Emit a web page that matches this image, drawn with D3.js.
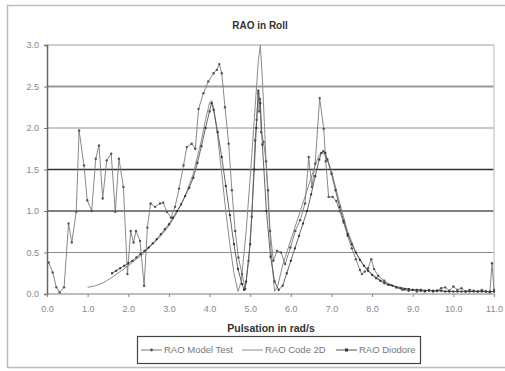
<!DOCTYPE html>
<html><head><meta charset="utf-8">
<script src="https://cdn.jsdelivr.net/npm/d3@7"></script>
<style>body{margin:0;background:#fff}svg{display:block}text{font-family:"Liberation Sans",Arial,sans-serif}</style>
</head><body><svg id="c" width="505" height="371"></svg>
<script>
const title = "RAO in Roll";
const xTitle = "Pulsation in rad/s";
const seriesNames = ["RAO Model Test", "RAO Code 2D", "RAO Diodore"];
const xTicks = [0,1,2,3,4,5,6,7,8,9,10,11];
const yTicks = [0,0.5,1,1.5,2,2.5,3];

const modelX = [0.04,0.14,0.23,0.31,0.42,0.53,0.61,0.72,0.79,0.91,0.99,1.1,1.2,1.28,1.37,1.47,1.58,1.68,1.77,1.88,1.98,2.06,2.13,2.19,2.29,2.39,2.47,2.55,2.66,2.78,2.86,2.95,3.05,3.15,3.25,3.36,3.44,3.56,3.65,3.73,3.85,3.97,4.1,4.18,4.24,4.3,4.38,4.47,4.55,4.63,4.71,4.8,4.88,4.96,5.04,5.12,5.16,5.2,5.22,5.24,5.27,5.33,5.39,5.44,5.49,5.57,5.66,5.76,5.86,5.99,6.11,6.23,6.35,6.44,6.52,6.6,6.71,6.81,6.86,6.93,7.03,7.12,7.2,7.3,7.4,7.5,7.6,7.7,7.75,7.82,7.9,7.98,8.05,8.15,8.3,8.45,8.6,8.75,8.9,9.0,9.1,9.2,9.3,9.4,9.5,9.6,9.7,9.8,9.9,10.0,10.1,10.2,10.3,10.4,10.5,10.6,10.7,10.8,10.9,10.95,11.0];
const modelY = [0.38,0.26,0.08,0.02,0.08,0.85,0.62,0.99,1.97,1.55,1.13,1.0,1.63,1.79,1.15,1.61,1.69,0.99,1.63,1.29,0.24,0.76,0.62,0.76,0.64,0.10,0.80,1.09,1.05,1.09,1.10,0.99,0.92,1.05,1.27,1.55,1.77,1.81,1.75,2.23,2.42,2.56,2.66,2.70,2.77,2.66,2.25,1.81,1.25,0.76,0.44,0.24,0.06,0.40,0.93,1.85,2.10,2.42,2.20,2.35,1.95,1.83,1.60,1.25,0.76,0.40,0.52,0.50,0.36,0.56,0.76,0.89,1.09,1.65,1.29,1.57,2.36,1.99,1.60,1.17,1.17,1.12,1.00,0.86,0.70,0.55,0.42,0.29,0.24,0.27,0.31,0.42,0.30,0.22,0.16,0.11,0.08,0.05,0.04,0.05,0.03,0.04,0.03,0.05,0.03,0.04,0.07,0.08,0.04,0.09,0.05,0.07,0.03,0.05,0.04,0.03,0.05,0.03,0.02,0.37,0.05];

const code2dX = [1.0,1.2,1.4,1.6,1.8,2.0,2.2,2.4,2.6,2.8,3.0,3.2,3.4,3.6,3.8,3.9,4.0,4.05,4.1,4.2,4.3,4.4,4.5,4.6,4.7,4.78,4.9,5.0,5.1,5.2,5.25,5.3,5.4,5.5,5.6,5.68,5.8,6.0,6.2,6.4,6.6,6.7,6.8,6.9,7.0,7.2,7.4,7.6,7.8,8.0,8.2,8.4,8.6,8.8,9.0,9.5,10.0,10.5,11.0];
const code2dY = [0.08,0.10,0.14,0.20,0.27,0.34,0.42,0.50,0.60,0.70,0.82,0.98,1.18,1.45,1.85,2.10,2.30,2.33,2.25,1.90,1.45,1.00,0.60,0.25,0.03,0.15,0.75,1.40,2.10,2.80,3.00,2.60,1.50,0.60,0.03,0.10,0.35,0.65,0.95,1.25,1.55,1.68,1.70,1.62,1.48,1.10,0.75,0.50,0.34,0.24,0.17,0.12,0.09,0.07,0.05,0.04,0.03,0.03,0.03];

const diodoreX = [1.6,1.7,1.8,1.9,2.0,2.1,2.2,2.3,2.4,2.5,2.6,2.7,2.8,2.9,3.0,3.1,3.2,3.3,3.4,3.5,3.6,3.7,3.8,3.9,4.0,4.05,4.1,4.2,4.3,4.4,4.5,4.6,4.7,4.8,4.85,4.9,5.0,5.1,5.15,5.2,5.25,5.3,5.4,5.5,5.6,5.7,5.8,5.9,6.0,6.1,6.2,6.3,6.4,6.5,6.6,6.7,6.75,6.8,6.85,6.9,7.0,7.1,7.2,7.3,7.4,7.5,7.6,7.7,7.8,7.9,8.0,8.1,8.2,8.3,8.4,8.5,8.6,8.7,8.8,8.9,9.0,9.1,9.2,9.3,9.4,9.5,9.6,9.7,9.8,9.9,10.0,10.1,10.2,10.3,10.4,10.5,10.6,10.7,10.8,10.9,11.0];
const diodoreY = [0.25,0.28,0.31,0.34,0.37,0.40,0.44,0.48,0.52,0.56,0.61,0.66,0.72,0.78,0.84,0.92,1.00,1.08,1.18,1.28,1.40,1.58,1.78,2.00,2.20,2.30,2.22,1.95,1.65,1.30,0.95,0.60,0.30,0.12,0.05,0.15,0.60,1.50,2.00,2.45,2.30,1.80,1.00,0.45,0.15,0.05,0.10,0.25,0.40,0.55,0.70,0.85,1.00,1.20,1.42,1.62,1.70,1.72,1.70,1.62,1.45,1.25,1.05,0.88,0.72,0.60,0.50,0.41,0.34,0.28,0.23,0.19,0.16,0.13,0.11,0.10,0.08,0.07,0.06,0.06,0.05,0.05,0.05,0.04,0.04,0.04,0.04,0.04,0.03,0.03,0.03,0.03,0.03,0.03,0.03,0.03,0.03,0.03,0.03,0.03,0.03];

const svg = d3.select("#c");
svg.append("rect").attr("width",505).attr("height",371).attr("fill","#fff");
svg.append("rect").attr("x",7.5).attr("y",5.5).attr("width",510).attr("height",362)
  .attr("fill","none").attr("stroke","#bdbdbd").attr("stroke-width",1.5);

const L=47, R=494, T=45, B=294;
const x = d3.scaleLinear().domain([0,11]).range([L,R]);
const y = d3.scaleLinear().domain([0,3]).range([B,T]);

const gridStyle = {0:["#bdbdbd",2],0.5:["#8a8a8a",1.2],1:["#555",1.3],1.5:["#333",1.6],2:["#c8c8c8",2],2.5:["#9a9a9a",1.8],3:["#cfcfcf",2]};
svg.append("g").selectAll("line").data(yTicks).join("line")
  .attr("x1",L).attr("x2",R).attr("y1",d=>y(d)).attr("y2",d=>y(d))
  .attr("stroke",d=>gridStyle[d][0]).attr("stroke-width",d=>gridStyle[d][1]);
svg.append("line").attr("x1",R).attr("x2",R).attr("y1",T).attr("y2",B).attr("stroke","#cfcfcf").attr("stroke-width",1.5);

const yAxis = svg.append("g").attr("transform",`translate(${L},0)`)
  .call(d3.axisLeft(y).tickValues(yTicks).tickSize(3).tickPadding(5).tickFormat(d3.format(".1f")));
yAxis.select(".domain").attr("stroke","#666").attr("stroke-width",1.5);
yAxis.selectAll(".tick line").attr("stroke","#777");
yAxis.selectAll("text").attr("fill","#888").attr("font-size",9);

const xAxis = svg.append("g").attr("transform",`translate(0,${B})`)
  .call(d3.axisBottom(x).tickValues(xTicks).tickSize(3).tickPadding(9).tickFormat(d3.format(".1f")));
xAxis.select(".domain").remove();
xAxis.selectAll(".tick line").attr("stroke","#888");
xAxis.selectAll("text").attr("fill","#888").attr("font-size",9);

const line = d3.line().x(d=>x(d[0])).y(d=>y(d[1]));
const model = modelX.map((v,i)=>[v,modelY[i]]);
const code2d = code2dX.map((v,i)=>[v,code2dY[i]]);
const diod = diodoreX.map((v,i)=>[v,diodoreY[i]]);

svg.append("path").datum(code2d).attr("d",line).attr("fill","none").attr("stroke","#8c8c8c").attr("stroke-width",1);
svg.append("path").datum(model).attr("d",line).attr("fill","none").attr("stroke","#7a7a7a").attr("stroke-width",0.9);
svg.append("g").selectAll("circle").data(model).join("circle")
  .attr("cx",d=>x(d[0])).attr("cy",d=>y(d[1])).attr("r",1.2).attr("fill","#555");
svg.append("path").datum(diod).attr("d",line).attr("fill","none").attr("stroke","#555").attr("stroke-width",0.9);
svg.append("g").selectAll("rect").data(diod).join("rect")
  .attr("x",d=>x(d[0])-1).attr("y",d=>y(d[1])-1).attr("width",2).attr("height",2).attr("fill","#333");

svg.append("text").attr("x",260).attr("y",29).attr("text-anchor","middle")
  .attr("font-size",10).attr("font-weight","bold").attr("fill","#333").text(title);
svg.append("text").attr("x",271).attr("y",332).attr("text-anchor","middle")
  .attr("font-size",10.5).attr("font-weight","bold").attr("fill","#333").text(xTitle);

const lg = svg.append("g");
lg.append("rect").attr("x",137.5).attr("y",336.5).attr("width",283).attr("height",27)
  .attr("fill","#fff").attr("stroke","#444").attr("stroke-width",1.2);
const entries = [{x:141,tx:164},{x:242,tx:265},{x:336,tx:359}];
entries.forEach((e,i)=>{
  const cy = 350;
  lg.append("line").attr("x1",e.x).attr("x2",e.x+21).attr("y1",cy).attr("y2",cy)
    .attr("stroke",i===1?"#8c8c8c":(i===0?"#7a7a7a":"#555")).attr("stroke-width",1);
  if(i===0) lg.append("circle").attr("cx",e.x+10.5).attr("cy",cy).attr("r",1.4).attr("fill","#555");
  if(i===2) lg.append("rect").attr("x",e.x+9).attr("y",cy-1.5).attr("width",3).attr("height",3).attr("fill","#333");
  lg.append("text").attr("x",e.tx).attr("y",cy+3.3).attr("font-size",9.5).attr("fill","#777").text(seriesNames[i]);
});
</script></body></html>
